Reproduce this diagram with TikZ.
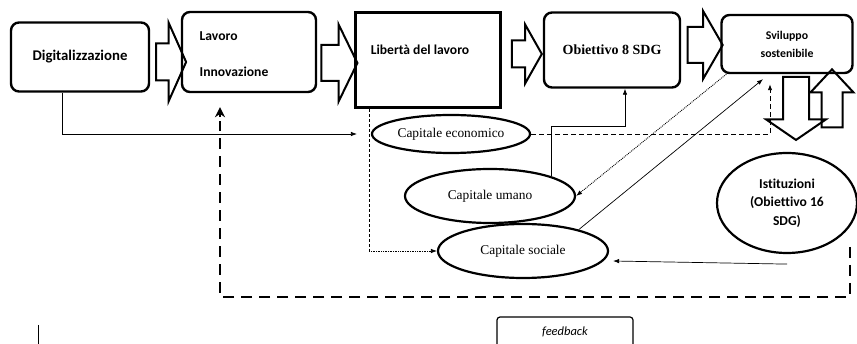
\documentclass[tikz,border=0pt]{standalone}
\usepackage{fontspec}
\setmainfont{Liberation Serif}
\setsansfont{Carlito}[Ligatures=NoCommon]
\usetikzlibrary{positioning}
\usetikzlibrary{arrows.meta, shapes.arrows, shapes.geometric}

\begin{document}
\begin{tikzpicture}[x=1pt,y=-1pt,>={Latex[length=6pt,width=4.5pt]},
		box/.style={draw, rounded corners=8pt, line width=2.4pt, inner sep=0pt, font=\sffamily\bfseries\fontsize{13.6}{16}\selectfont},
		capital/.style={draw, ellipse, line width=2.2pt, inner sep=0pt, font=\fontsize{13.4}{15}\selectfont},
		bigarrow/.style={draw, single arrow, line width=2pt, inner xsep=0pt, minimum height=#1},
		conn/.style={->, line width=0.7pt},
		feedback/.style={line width=2.7pt, dash pattern=on 11pt off 7pt}]

		\useasboundingbox (0,0) rectangle (857,344);

		%% Nodes
		\begin{scope}
			\node (digit) at (80,57) [box, minimum width=138pt, minimum height=69pt, font=\sffamily\bfseries\fontsize{14.8}{17}\selectfont] {Digitalizzazione};
			\node (lavoro) at (249,52) [box, minimum width=134pt, minimum height=80pt] {};
			\node (lavoro_text) at (234,54) [align=left, font=\sffamily\bfseries\fontsize{13.6}{16}\selectfont] {Lavoro\\[20pt]Innovazione};
			\node (liberta) at (428,60) [draw, rectangle, line width=2.6pt, minimum width=145pt, minimum height=95pt] {};
			\node (liberta_text) at (420,50) [font=\sffamily\bfseries\fontsize{13.6}{16}\selectfont] {Libertà del lavoro};
			\node (obj8) at (612,50) [box, minimum width=136pt, minimum height=75pt, font=\bfseries\fontsize{14}{16}\selectfont] {Obiettivo 8 SDG};
			\node (sviluppo) at (787,44) [box, align=center, minimum width=131pt, minimum height=58pt, font=\sffamily\bfseries\fontsize{11.8}{18}\selectfont] {Sviluppo\\sostenibile};
		\end{scope}

		% Block arrows
		\begin{scope}
			\node (arr1) at (167,62) [bigarrow=30pt, inner ysep=17.5pt, single arrow head extend=21pt, single arrow tip angle=132] {};
			\node (arr2) at (335,63) [bigarrow=36pt, inner ysep=17pt, single arrow head extend=20.5pt, single arrow tip angle=128] {};
			\node (arr3) at (523,54) [bigarrow=30pt, inner ysep=12.5pt, single arrow head extend=16pt, single arrow tip angle=121] {};
			\node (arr4) at (700,45) [bigarrow=35pt, inner ysep=17pt, single arrow head extend=16pt, single arrow tip angle=120] {};
			\node (arr_down) at (796,104) [bigarrow=63pt, inner ysep=12pt, single arrow head extend=17pt, single arrow tip angle=111, rotate=-90] {};
			\node (arr_up) at (832,104) [bigarrow=58pt, inner ysep=9.5pt, single arrow head extend=11pt, single arrow tip angle=86, rotate=90] {};
		\end{scope}

		% Capitals
		\begin{scope}
			\node (c_eco) at (451,134) [capital, minimum width=158pt, minimum height=38pt] {Capitale economico};
			\node (c_umano) at (490,196) [capital, minimum width=170pt, minimum height=54pt] {Capitale umano};
			\node (c_sociale) at (523,251) [capital, minimum width=170pt, minimum height=54pt] {Capitale sociale};
			\node (istituzioni) at (787,203) [capital, align=center, minimum width=140pt, minimum height=100pt, font=\sffamily\bfseries\fontsize{13.6}{18.5}\selectfont] {Istituzioni\\(Obiettivo 16\\SDG)};
		\end{scope}

		% Feedback
		\begin{scope}
			\node (fb_box) at (565,332) [draw, rounded corners=3pt, line width=1.2pt, minimum width=136pt, minimum height=30pt, font=\sffamily\itshape\fontsize{12.5}{14}\selectfont] {feedback};
			\coordinate (fb_start) at (850,247);
			\coordinate (fb_corner) at (220,297);
			\coordinate (mark_top) at (38,325);
			\coordinate (mark_bottom) at (38,344);
		\end{scope}

		%% Edges
		\draw[conn] ([xshift=-18pt]digit.south) |- ([xshift=-14pt]c_eco.west);
		\draw[line width=0.6pt, dash pattern=on 3pt off 2pt] ([xshift=15pt]liberta.south west) -- ([xshift=15pt]liberta.south west |- c_sociale.west);
		\draw[conn, densely dotted] ([xshift=15pt]liberta.south west |- c_sociale.west) -- (c_sociale.west);
		\draw[conn] (c_umano.18) |- ([xshift=13pt,yshift=-38pt]obj8.south) -- ([xshift=13pt]obj8.south);
		\draw[conn, line width=0.9pt, dash pattern=on 5pt off 3pt] (c_eco.east) -| ([xshift=-17pt,yshift=-10pt]sviluppo.south);
		\draw[conn, line width=0.9pt, densely dotted] ([xshift=6pt]sviluppo.south west) -- (c_umano.east);
		\draw[conn] (c_sociale.21) -- ([xshift=-24pt,yshift=-5pt]sviluppo.south);
		\draw[conn] ([yshift=-10pt]istituzioni.south) -- ([xshift=4pt,yshift=-10pt]c_sociale.east);
		\draw[feedback] (fb_start) |- (fb_corner) -- ([xshift=-29pt,yshift=-28pt]lavoro.south);
		\draw[-{Stealth[length=10pt,width=10pt]}, line width=2.4pt] ([xshift=-29pt,yshift=-24pt]lavoro.south) -- ([xshift=-29pt,yshift=-14pt]lavoro.south);
		\draw[line width=0.6pt] (mark_top) -- (mark_bottom);
	\end{tikzpicture}
\end{document}
